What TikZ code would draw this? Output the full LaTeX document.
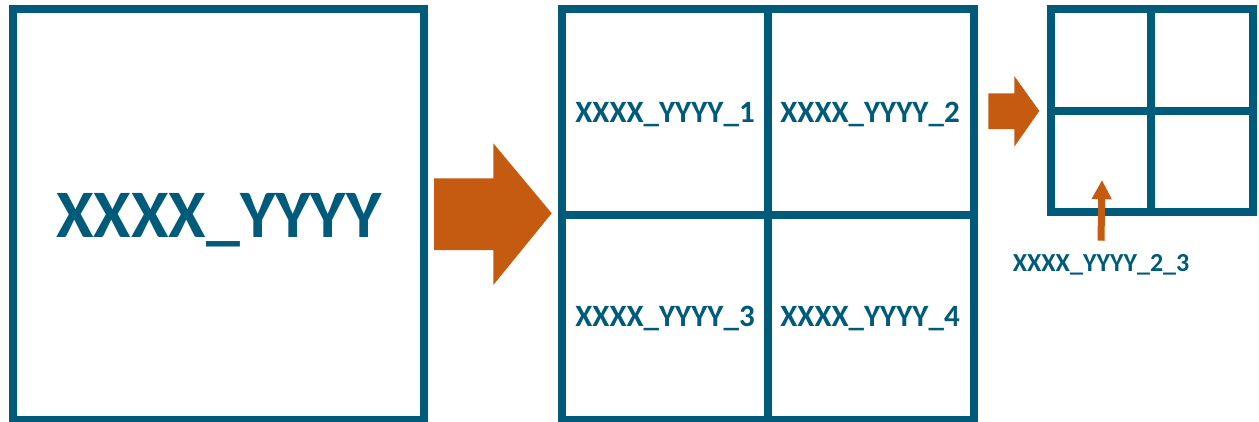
\documentclass[tikz,border=0pt]{standalone}
\usepackage{fontspec}
\setmainfont{Carlito}
\usetikzlibrary{arrows.meta}
\definecolor{gridblue}{RGB}{0,91,122}
\definecolor{arroworange}{RGB}{197,90,17}
\begin{document}
\begin{tikzpicture}[x=1pt,y=-1pt,
  frame/.style={draw=gridblue,line width=8pt},
  bigtxt/.style={text=gridblue,font=\fontsize{68}{68}\selectfont\bfseries,anchor=base,inner sep=0},
  celltxt/.style={text=gridblue,font=\fontsize{31}{31}\selectfont\bfseries,anchor=base,inner sep=0},
  lbltxt/.style={text=gridblue,font=\fontsize{26}{26}\selectfont\bfseries,anchor=base,inner sep=0},
  blockarrow/.style={fill=arroworange,draw=none}]
\useasboundingbox (0,0) rectangle (1259,421);

% original square
\draw[frame] (13,9) rectangle (424,419.5);
\node[bigtxt] (whole) at (219,237) {XXXX\_YYYY};

% first split arrow
\fill[blockarrow] (434,178.3) -- (493.3,178.3) -- (493.3,143.3) -- (551.7,213.3)
  -- (493.3,285) -- (493.3,250) -- (434,250) -- cycle;

% square split into four
\draw[frame] (562,9) rectangle (973.5,419.5);
\draw[frame] (768,9) -- (768,419.5);
\draw[frame] (562,215) -- (973.5,215);
\node[celltxt] (q1) at (665,122.7) {XXXX\_YYYY\_1};
\node[celltxt] (q2) at (870,122.7) {XXXX\_YYYY\_2};
\node[celltxt] (q3) at (665,326) {XXXX\_YYYY\_3};
\node[celltxt] (q4) at (870,326) {XXXX\_YYYY\_4};

% second split arrow
\fill[blockarrow] (988.3,93.3) -- (1014.3,93.3) -- (1014.3,76) -- (1039.3,111)
  -- (1014.3,146.7) -- (1014.3,129) -- (988.3,129) -- cycle;

% one quadrant split again
\draw[frame] (1051,9) rectangle (1253,212);
\draw[frame] (1151,9) -- (1151,212);
\draw[frame] (1051,111) -- (1253,111);
\coordinate (sub3) at (1102,180);

\node[lbltxt] (lbl) at (1101,271.7) {XXXX\_YYYY\_2\_3};
\draw[arroworange,line width=7pt,-{Triangle[width=19pt,length=19.3pt]}]
  (lbl.north |- 0,240.7) -- (sub3);
\end{tikzpicture}
\end{document}
